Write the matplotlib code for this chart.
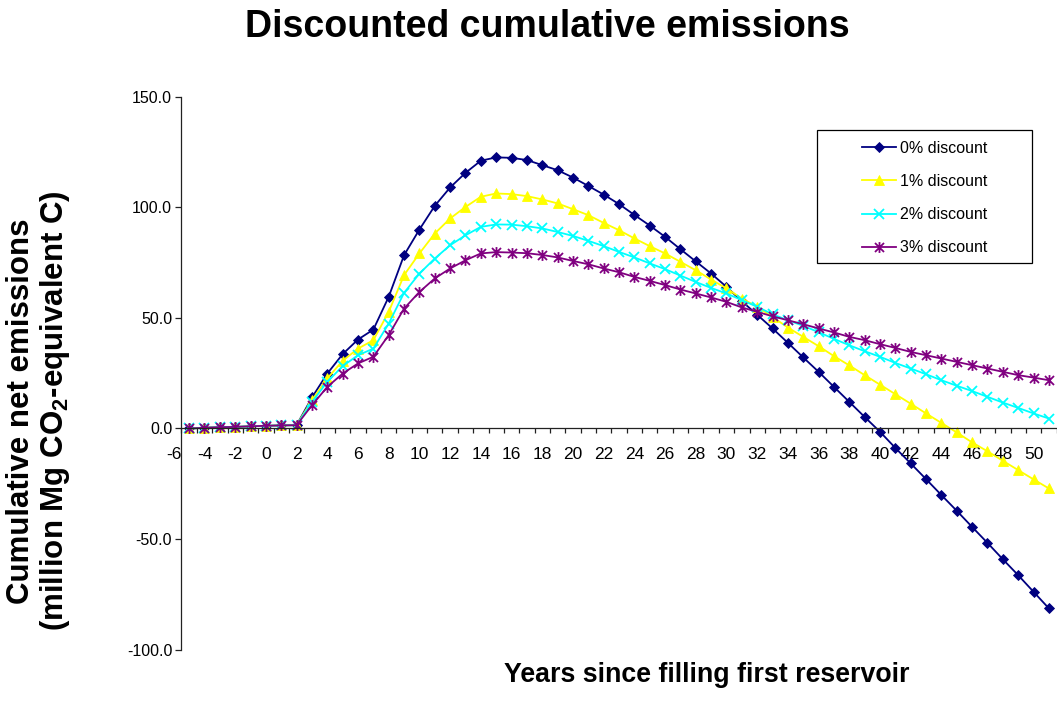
import matplotlib
matplotlib.use("Agg")
import matplotlib.pyplot as plt
from matplotlib.path import Path
from matplotlib.patches import Rectangle
from matplotlib.ticker import FixedLocator, FormatStrFormatter

plt.rcParams['font.family'] = ['Liberation Sans', 'DejaVu Sans']
plt.rcParams['mathtext.fontset'] = 'custom'
plt.rcParams['mathtext.rm'] = 'Liberation Sans'
plt.rcParams['mathtext.bf'] = 'Liberation Sans:bold'

# ---- data ----
years = list(range(-5, 52))
disc0 = [0.0, 0.3, 0.6, 0.7, 1.0, 1.2, 1.4, 1.5,
         14.0, 24.8, 33.6, 40.2, 44.7, 59.5, 78.3, 89.9, 100.6, 108.9, 115.5, 121.0,
         122.5, 122.3, 121.3, 119.0, 116.7, 113.4, 109.6, 105.7, 101.4, 96.5,
         91.7, 86.6, 81.0, 75.5, 70.0, 64.0, 57.5, 51.4, 45.2, 38.7,
         32.1, 25.6, 18.8, 12.0, 5.2, -1.5, -8.8, -15.8, -22.9, -30.1,
         -37.2, -44.5, -51.7, -59.1, -66.3, -73.8, -81.3]
disc1 = [0.0, 0.3, 0.6, 0.7, 1.0, 1.2, 1.4, 1.5,
         12.8, 22.6, 30.6, 36.1, 39.9, 52.7, 69.3, 79.1, 88.1, 94.9, 100.1, 104.7,
         106.2, 105.9, 105.0, 103.5, 101.7, 99.1, 96.4, 92.9, 89.6, 85.9,
         82.4, 79.1, 75.3, 71.5, 67.3, 63.3, 58.7, 55.0, 50.4, 45.6,
         41.4, 37.2, 32.7, 28.5, 24.1, 19.8, 15.5, 11.2, 6.8, 2.5,
         -1.8, -6.3, -10.3, -14.6, -18.8, -23.0, -27.1]
disc2 = [0.0, 0.3, 0.6, 0.7, 1.0, 1.2, 1.4, 1.5,
         12.0, 21.1, 28.2, 33.1, 36.1, 47.4, 61.3, 70.0, 76.8, 82.8, 87.3, 91.1,
         92.2, 92.1, 91.4, 90.4, 88.8, 87.0, 84.8, 82.4, 79.8, 77.3,
         74.6, 72.0, 69.1, 66.2, 63.5, 61.0, 58.0, 55.0, 51.6, 48.9,
         46.4, 43.5, 40.5, 37.6, 34.9, 32.4, 29.6, 27.1, 24.5, 21.8,
         19.3, 16.9, 14.3, 11.7, 9.3, 6.8, 4.5]
disc3 = [0.0, 0.3, 0.6, 0.7, 1.0, 1.2, 1.4, 1.5,
         10.5, 18.8, 24.8, 29.4, 32.4, 42.2, 54.2, 61.7, 67.8, 72.3, 76.0, 79.1,
         79.7, 79.5, 79.2, 78.4, 77.3, 75.7, 74.2, 72.3, 70.6, 68.5,
         66.7, 64.8, 62.8, 61.0, 59.2, 57.2, 54.7, 52.7, 50.7, 48.9,
         47.1, 45.2, 43.4, 41.4, 39.9, 38.1, 36.4, 34.6, 33.1, 31.6,
         30.1, 28.6, 27.1, 25.6, 24.1, 23.0, 21.8]
series_labels = ["0% discount", "1% discount", "2% discount", "3% discount"]
x_tick_labels = list(range(-6, 52, 2))
y_ticks = [-100, -50, 0, 50, 100, 150]

# ---- style ----
colors = ["#000080", "#FFFF00", "#00FFFF", "#800080"]
star = Path([(-1, -1), (1, 1), (-1, 1), (1, -1), (0, -1.2), (0, 1.2)],
            [Path.MOVETO, Path.LINETO, Path.MOVETO, Path.LINETO, Path.MOVETO, Path.LINETO])
markers = ["D", "^", "x", star]
msizes = [5.0, 7.2, 6.8, 7.8]

fig = plt.figure(figsize=(10.57, 7.04), dpi=100)
ax = fig.add_axes([0.1644, 0.0770, 0.8352, 0.7859])

for vals, lab, c, m, ms in zip([disc0, disc1, disc2, disc3], series_labels, colors, markers, msizes):
    kw = dict(color=c, lw=1.3, marker=m, markersize=ms, label=lab, clip_on=False)
    if m in ("x",) or m is star:
        kw.update(markeredgewidth=1.3)
    else:
        kw.update(markeredgewidth=0.6, markeredgecolor=c, markerfacecolor=c)
    ax.plot(years, vals, **kw)

ax.set_xlim(-6, 51.5)
ax.set_ylim(-100, 150)

for s in ("top", "right"):
    ax.spines[s].set_visible(False)
ax.spines["left"].set_position(("data", -5.5))
ax.spines["bottom"].set_position(("data", 0))
ax.spines["bottom"].set_bounds(-5.5, 51.5)
for s in ("left", "bottom"):
    ax.spines[s].set_linewidth(0.9)
    ax.spines[s].set_color("#222222")

ax.yaxis.set_major_locator(FixedLocator(y_ticks))
ax.yaxis.set_major_formatter(FormatStrFormatter("%.1f"))
ax.tick_params(axis="y", direction="out", length=4, width=0.9, pad=2.7,
               labelsize=11.5, colors="#222222", labelcolor="black")

ax.xaxis.set_major_locator(FixedLocator(x_tick_labels))
ax.set_xticklabels([str(v) for v in x_tick_labels])
ax.xaxis.set_minor_locator(FixedLocator([y + 0.5 for y in range(-6, 52)]))
ax.tick_params(axis="x", which="major", length=0, pad=13, labelsize=12.5)
ax.tick_params(axis="x", which="minor", direction="out", length=3.6, width=0.9, colors="#222222")

# titles
fig.text(0.518, 1 - 36.7 / 704, "Discounted cumulative emissions", ha="center", va="baseline",
         fontsize=27, fontweight="bold")
fig.text(706.7 / 1057, 1 - 681.7 / 704, "Years since filling first reservoir", ha="center",
         va="baseline", fontsize=19.3, fontweight="bold")
fig.text(39 / 1057, 1 - 411 / 704,
         "Cumulative net emissions\n(million Mg CO$_\\mathbf{2}$-equivalent C)",
         rotation=90, ha="center", va="center", multialignment="center",
         fontsize=22.5, fontweight="bold", linespacing=1.1)

# legend
fig.add_artist(Rectangle((816.7 / 1057, 1 - 262.7 / 704), 215 / 1057, 132.7 / 704,
                         transform=fig.transFigure, facecolor="white", edgecolor="black",
                         lw=0.9, zorder=3))
handles, labels = ax.get_legend_handles_labels()
leg = fig.legend(handles, labels, loc="upper left", bbox_to_anchor=(862 / 1057, 1 - 141 / 704),
                 frameon=False, fontsize=11.5, handlelength=2.1, handletextpad=0.3,
                 labelspacing=1.13, borderpad=0, borderaxespad=0)
leg.set_zorder(5)

fig.savefig("out.png", dpi=100)
